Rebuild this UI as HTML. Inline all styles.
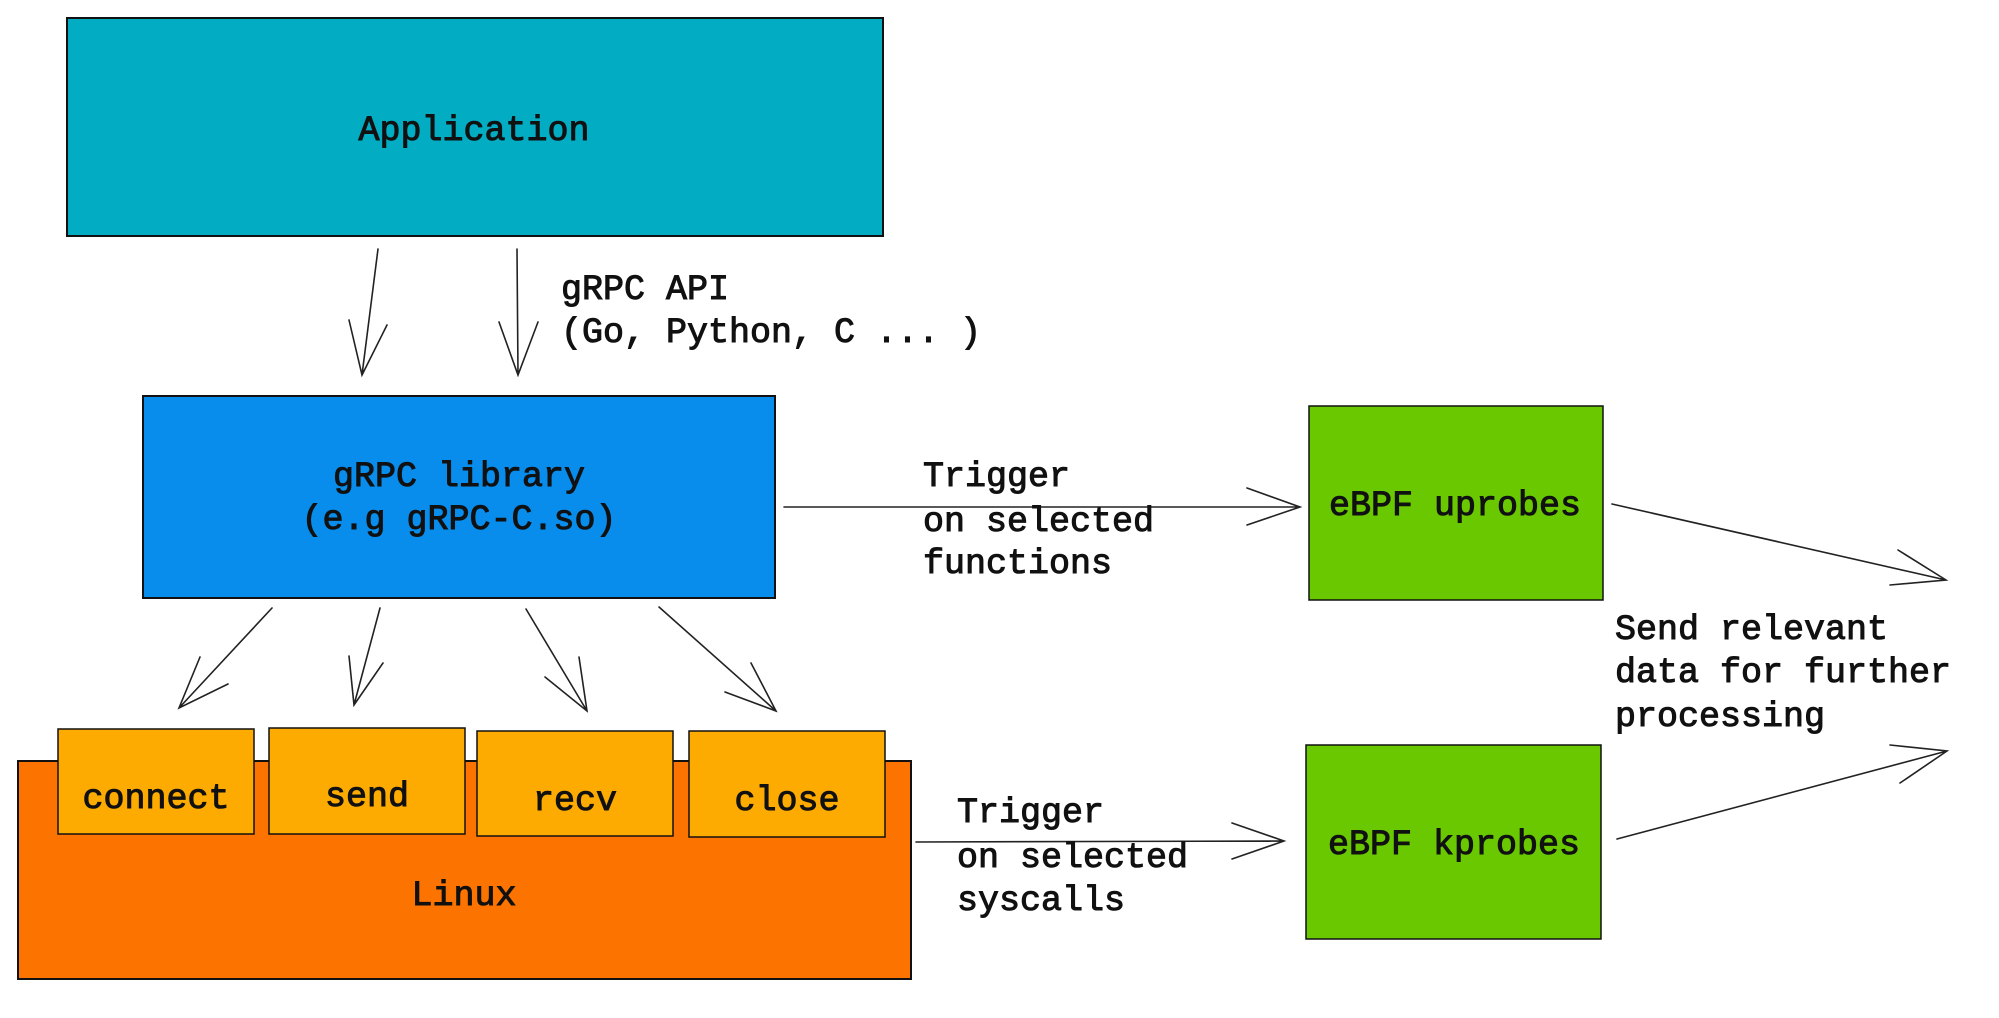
<!DOCTYPE html>
<html><head><meta charset="utf-8"><style>
html,body{margin:0;padding:0;background:#fff;}
svg{display:block}
text{font-family:"Liberation Mono",monospace;font-size:35px;fill:#111;stroke:#111;stroke-width:1px}
</style></head><body>
<svg width="1999" height="1018" viewBox="0 0 1999 1018" xmlns="http://www.w3.org/2000/svg">
<g stroke="#111" stroke-width="2" fill="none">
<rect x="67" y="18" width="816" height="218" fill="#02adc4"/>
<rect x="143" y="396" width="632" height="202" fill="#088ded"/>
<rect x="18" y="761" width="893" height="218" fill="#fd7300"/>
<rect x="58" y="729" width="196" height="105" fill="#fdab00" stroke-width="1.5"/>
<rect x="269" y="728" width="196" height="106" fill="#fdab00" stroke-width="1.5"/>
<rect x="477" y="731" width="196" height="105" fill="#fdab00" stroke-width="1.5"/>
<rect x="689" y="731" width="196" height="106" fill="#fdab00" stroke-width="1.5"/>
<rect x="1309" y="406" width="294" height="194" fill="#69c800" stroke-width="1.5"/>
<rect x="1306" y="745" width="295" height="194" fill="#69c800" stroke-width="1.5"/>
</g>
<g stroke="#222" stroke-width="1.6" fill="none" stroke-linecap="round">
<path d="M378 249 L362 375 M349 320 L362 375 L387 325"/>
<path d="M517 249 L518 375 M499 322 L518 375 L538 322"/>
<path d="M272 608 L179 708 M200 657 L179 708 L228 684"/>
<path d="M380 608 L354 705 M349 656 L354 705 L383 663"/>
<path d="M526 609 L587 711 M545 677 L587 711 L579 657"/>
<path d="M659 607 L776 711 M725 692 L776 711 L751 663"/>
<path d="M784 507 L1300 507 M1247 488 L1300 507 L1247 525"/>
<path d="M916 842 L1284 841 M1232 823 L1284 841 L1232 859"/>
<path d="M1612 504 L1946 580 M1898 550 L1946 580 L1890 585"/>
<path d="M1617 839 L1947 751 M1890 745 L1947 751 L1900 783"/>
</g>
<g text-anchor="middle" dominant-baseline="central">
<text x="474" y="131">Application</text>
<text x="459" y="477">gRPC library</text>
<text x="459" y="520">(e.g gRPC-C.so)</text>
<text x="156" y="799">connect</text>
<text x="367" y="797">send</text>
<text x="575" y="801">recv</text>
<text x="787" y="801">close</text>
<text x="464" y="896">Linux</text>
<text x="1455" y="506">eBPF uprobes</text>
<text x="1454" y="845">eBPF kprobes</text>
</g>
<g dominant-baseline="central">
<text x="561" y="290">gRPC API</text>
<text x="561" y="333">(Go, Python, C ... )</text>
<text x="923" y="477">Trigger</text>
<text x="923" y="522">on selected</text>
<text x="923" y="564">functions</text>
<text x="957" y="813">Trigger</text>
<text x="957" y="858">on selected</text>
<text x="957" y="901">syscalls</text>
<text x="1615" y="630">Send relevant</text>
<text x="1615" y="673">data for further</text>
<text x="1615" y="717">processing</text>
</g>
</svg>
</body></html>
